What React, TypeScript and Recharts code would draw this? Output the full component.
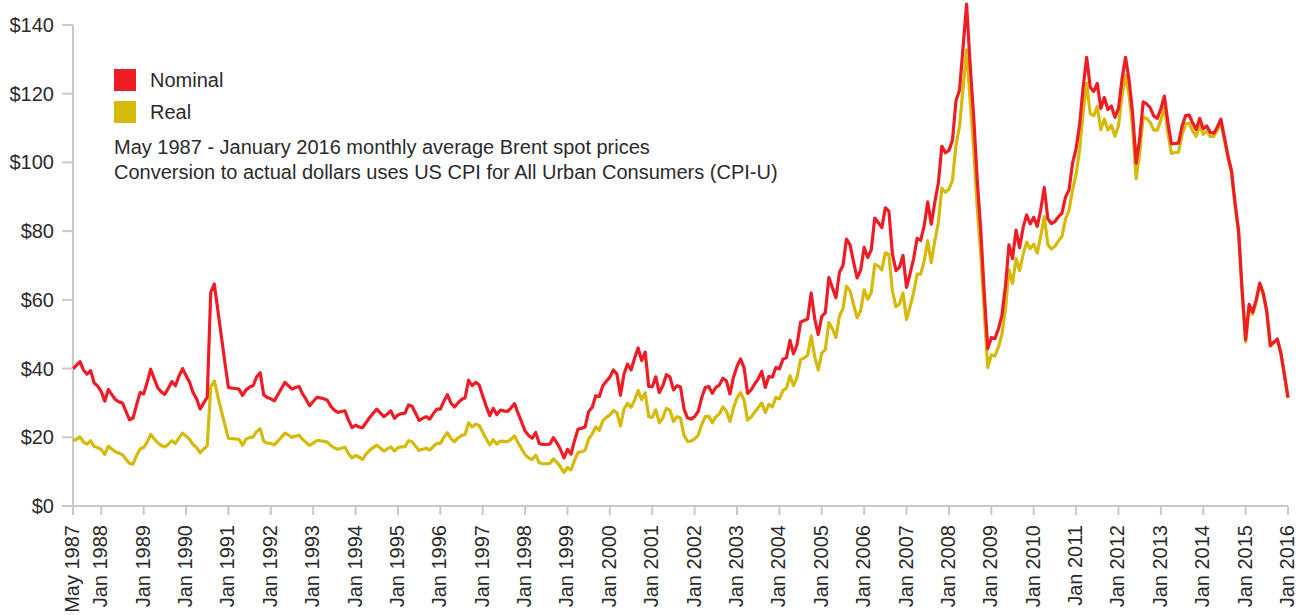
import { LineChart, Line, XAxis, YAxis, ReferenceLine } from 'recharts';

const MONTH_NAMES = ['Jan', 'Feb', 'Mar', 'Apr', 'May', 'Jun', 'Jul', 'Aug', 'Sep', 'Oct', 'Nov', 'Dec'];

// monthly Brent, May 1987 .. Jan 2016 (one row per year, first row starts in May)
const nominal = [
  39.9, 41.0, 42.0, 39.5, 38.4, 39.4, 35.8, 34.9,
  33.3, 30.5, 33.9, 32.4, 31.0, 30.3, 30.0, 27.5, 25.1, 25.6, 29.5, 33.0,
  32.6, 36.0, 39.8, 37.0, 34.4, 33.2, 32.5, 34.3, 36.2, 35.0, 37.8, 40.0,
  38.0, 36.0, 33.0, 31.2, 28.2, 30.0, 31.6, 62.2, 64.6, 57.0, 49.4, 41.8,
  34.5, 34.3, 34.2, 34.0, 32.2, 33.8, 34.6, 35.0, 37.6, 38.8, 32.3, 31.6,
  31.2, 30.6, 32.4, 34.2, 36.0, 35.0, 34.0, 34.5, 34.8, 32.6, 31.0, 29.2,
  30.4, 31.6, 31.5, 31.2, 30.8, 29.0, 27.9, 27.2, 27.5, 27.7, 25.0, 22.8,
  23.5, 23.0, 22.8, 24.3, 25.8, 27.0, 28.2, 27.1, 26.0, 26.8, 27.7, 25.5,
  26.5, 26.9, 27.0, 29.4, 29.0, 27.0, 24.9, 25.5, 26.0, 25.3, 26.8, 28.2,
  28.2, 30.5, 32.4, 30.0, 28.8, 30.0, 31.0, 31.5, 36.6, 35.0, 36.0, 35.2,
  32.0, 29.0, 26.3, 28.4, 26.6, 27.9, 27.7, 27.5, 28.5, 29.8, 27.0, 24.5,
  21.8, 20.5, 19.7, 21.4, 18.2, 17.9, 17.9, 18.0, 19.9, 18.4, 16.5, 14.0,
  16.5, 15.1, 19.0, 22.4, 22.6, 23.0, 27.5, 28.7, 32.1, 31.8, 35.0, 36.3,
  37.5, 39.6, 38.4, 32.2, 38.4, 41.3, 39.6, 43.0, 46.0, 42.3, 44.8, 34.8,
  34.7, 37.6, 33.0, 35.0, 38.2, 37.6, 33.8, 35.0, 34.6, 28.2, 25.6, 25.3,
  26.0, 27.5, 31.5, 34.5, 34.8, 32.8, 34.5, 35.2, 37.2, 36.4, 32.6, 37.5,
  40.6, 42.8, 40.2, 32.8, 33.8, 35.5, 37.0, 39.2, 34.5, 37.7, 37.5, 40.3,
  39.9, 42.7, 43.2, 48.2, 44.3, 47.0, 53.5, 54.0, 54.4, 62.0, 54.5, 49.9,
  55.2, 56.2, 66.5, 63.5, 60.6, 68.0, 70.0, 77.7, 76.0, 71.0, 66.4, 68.6,
  75.3, 72.3, 74.5, 83.8, 82.5, 81.0, 86.8, 85.8, 73.4, 68.5, 69.5, 72.9,
  63.6, 67.6, 72.0, 77.9, 77.3, 81.6, 88.5, 82.0, 88.4, 94.0, 104.7, 102.8,
  103.5, 106.4, 118.0, 121.0, 133.5, 146.1, 128.5, 113.5, 95.0, 80.5, 62.0, 45.8,
  49.0, 48.7, 51.5, 55.5, 64.0, 76.0, 72.0, 80.3, 75.2, 81.0, 84.7, 82.1,
  84.0, 81.4, 86.3, 92.7, 83.6, 82.2, 82.8, 84.2, 85.2, 89.9, 92.0, 99.8,
  104.0, 111.0, 121.9, 130.6, 121.9, 120.6, 123.0, 115.7, 118.9, 115.4, 116.4, 113.1,
  115.7, 124.2, 130.6, 124.0, 114.5, 99.8, 106.8, 117.6, 117.0, 115.9, 113.5, 112.8,
  115.6, 119.3, 111.6, 105.4, 105.5, 105.6, 110.6, 113.6, 113.8, 111.5, 109.6, 112.8,
  109.8, 110.6, 108.7, 108.5, 110.3, 112.6, 107.2, 102.0, 97.6, 88.3, 80.2, 63.0,
  48.4, 58.7, 56.4, 60.0, 64.9, 61.9, 56.6, 46.7, 47.7, 48.6, 44.4, 38.1,
  31.6,
];

const real = [
  19.0, 19.4, 20.1, 18.6, 18.0, 19.0, 17.3, 17.0,
  16.4, 15.0, 17.4, 16.6, 15.8, 15.4, 14.9, 13.6, 12.4, 12.2, 14.7, 16.6,
  17.0, 18.6, 20.8, 19.5, 18.4, 17.6, 17.2, 18.0, 19.0, 18.2, 19.8, 21.2,
  20.4, 19.4, 17.9, 17.0, 15.5, 16.6, 17.5, 34.6, 36.4, 32.0, 27.7, 23.6,
  19.7, 19.6, 19.5, 19.4, 17.7, 19.5, 19.9, 20.1, 21.7, 22.5, 18.8, 18.3,
  18.2, 17.8, 18.9, 20.0, 21.2, 20.6, 20.0, 20.3, 20.6, 19.4, 18.5, 17.6,
  18.3, 19.0, 19.0, 18.8, 18.6, 17.6, 16.9, 16.5, 16.8, 17.1, 15.3, 14.0,
  14.7, 14.2, 13.6, 15.2, 16.2, 17.0, 17.7, 16.9, 16.0, 16.6, 17.2, 16.0,
  17.0, 17.2, 17.3, 19.0, 18.7, 17.4, 16.2, 16.5, 16.8, 16.3, 17.3, 18.2,
  18.2, 20.0, 21.3, 19.6, 18.7, 19.8, 20.5, 20.8, 24.2, 23.0, 23.8, 23.4,
  21.5, 19.5, 17.8, 19.3, 18.0, 18.9, 18.8, 18.7, 19.4, 20.4, 18.4, 16.7,
  14.9, 14.0, 13.5, 14.8, 12.6, 12.3, 12.3, 12.4, 13.7, 12.7, 11.4, 9.7,
  11.2, 10.5, 13.3, 15.6, 15.8, 16.2, 19.5, 21.0, 23.0, 22.0, 24.8, 25.8,
  26.5, 27.8, 27.1, 23.3, 28.2, 29.9, 28.7, 30.8, 33.6, 31.0, 33.0, 26.0,
  25.8, 28.0, 24.2, 25.6, 28.4, 27.9, 24.6, 26.0, 25.6, 20.6, 18.8, 18.9,
  19.5, 20.6, 23.7, 26.0, 26.1, 24.2, 26.0, 26.8, 28.8, 27.6, 24.6, 28.5,
  31.5, 33.0, 30.8, 25.0, 25.9, 27.3, 28.6, 30.0, 27.2, 29.6, 28.8, 31.6,
  31.2, 33.6, 34.3, 37.9, 35.0, 37.5, 42.6, 43.1, 43.9, 49.5, 43.4, 39.6,
  44.5, 45.5, 53.4, 51.6, 49.0, 55.3, 57.4, 64.0, 62.6, 58.6, 54.8, 56.8,
  62.9, 60.2, 62.1, 70.3, 69.8, 68.7, 73.7, 73.2, 62.5, 58.0, 58.8, 62.0,
  54.3, 58.0, 62.1, 67.5, 67.5, 71.3, 77.2, 70.8, 77.2, 82.4, 92.5, 91.3,
  92.2, 94.8, 105.0, 110.5, 121.5, 132.7, 118.0, 104.0, 87.0, 73.5, 56.5, 40.3,
  44.0, 43.6, 46.2, 50.0, 57.3, 68.7, 64.8, 72.0, 68.5, 73.2, 76.8, 74.9,
  76.2, 73.6, 78.6, 84.2, 76.1, 74.8, 75.6, 77.1, 78.4, 83.5, 86.0, 92.0,
  96.5, 103.7, 114.6, 123.0, 114.2, 113.6, 116.3, 109.5, 112.6, 109.4, 110.8, 107.6,
  110.7, 119.3, 125.4, 119.6, 110.3, 95.3, 102.6, 113.2, 112.8, 111.6, 109.4, 109.4,
  112.3, 116.1, 108.6, 102.6, 102.8, 103.0, 108.0, 111.2, 111.4, 109.2, 107.6, 110.8,
  108.2, 109.1, 107.5, 107.6, 109.4, 111.6, 106.6, 101.4, 96.9, 87.5, 79.5, 62.4,
  47.7, 58.0, 55.8, 59.4, 64.5, 61.6, 56.4, 46.5, 47.6, 48.4, 44.3, 38.0,
  31.4,
];

const yTicks = [0, 20, 40, 60, 80, 100, 120, 140];

const xTickLabels = [
  'May 1987', 'Jan 1988', 'Jan 1989', 'Jan 1990', 'Jan 1991', 'Jan 1992', 'Jan 1993', 'Jan 1994',
  'Jan 1995', 'Jan 1996', 'Jan 1997', 'Jan 1998', 'Jan 1999', 'Jan 2000', 'Jan 2001', 'Jan 2002',
  'Jan 2003', 'Jan 2004', 'Jan 2005', 'Jan 2006', 'Jan 2007', 'Jan 2008', 'Jan 2009', 'Jan 2010',
  'Jan 2011', 'Jan 2012', 'Jan 2013', 'Jan 2014', 'Jan 2015', 'Jan 2016',
];

const notes = [
  'May 1987 - January 2016 monthly average Brent spot prices',
  'Conversion to actual dollars uses US CPI for All Urban Consumers (CPI-U)',
];

const RED = '#ee1c25';
const GOLD = '#d5b90b';
const GRID = '#c9c9cc';
const TEXT = '#2a2a2a';
const FONT = '"Liberation Sans", Arial, Helvetica, sans-serif';

// month names, starting at May 1987
const months = nominal.map((_, i) => {
  const k = i + 4;
  return `${MONTH_NAMES[k % 12]} ${1987 + Math.floor(k / 12)}`;
});

const data = months.map((month, i) => ({ i, month, nominal: nominal[i], real: real[i] }));
const xTicks = xTickLabels.map(l => months.indexOf(l));
const yTop = yTicks[yTicks.length - 1];

function XTick({ x, y, payload }: any) {
  return (
    <text
      x={x}
      y={y}
      dy="0.3em"
      transform={`rotate(-90 ${x} ${y})`}
      textAnchor="end"
      fontSize={20}
      fill={TEXT}
      fontFamily={FONT}
    >
      {months[payload.value]}
    </text>
  );
}

const legend = [
  { label: 'Nominal', color: RED, top: 69 },
  { label: 'Real', color: GOLD, top: 101 },
];

export default function App() {
  return (
    <div style={{ position: 'absolute', left: 0, top: 0, width: 1309, height: 615, background: '#fff', fontFamily: FONT }}>
      {/* the 2008 peak runs above the $140 tick, so the plot top is the data max */}
      <LineChart width={1309} height={615} data={data} margin={{ top: 4, right: 21, left: 0, bottom: 0 }}>
        <XAxis
          type="number"
          dataKey="i"
          domain={[0, data.length - 1]}
          ticks={xTicks}
          interval={0}
          height={109}
          stroke={GRID}
          strokeWidth={2}
          tickSize={9}
          tickMargin={10}
          tick={<XTick />}
        />
        <YAxis
          domain={[0, 'dataMax']}
          ticks={yTicks}
          interval={0}
          width={73}
          axisLine={false}
          stroke={GRID}
          strokeWidth={2}
          tickSize={11}
          tickMargin={8}
          tickFormatter={(v: number) => `$${v}`}
          tick={{ fontSize: 20, fill: TEXT, fontFamily: FONT }}
          tickLine={{ stroke: GRID, strokeWidth: 2 }}
        />
        {/* y axis line stops at the top tick */}
        <ReferenceLine segment={[{ x: 0, y: 0 }, { x: 0, y: yTop }]} stroke={GRID} strokeWidth={2} />
        <Line dataKey="real" stroke={GOLD} strokeWidth={3.2} dot={false} strokeLinejoin="round" isAnimationActive={false} />
        <Line dataKey="nominal" stroke={RED} strokeWidth={3.2} dot={false} strokeLinejoin="round" isAnimationActive={false} />
      </LineChart>

      {legend.map(l => (
        <div key={l.label}>
          <div style={{ position: 'absolute', left: 114, top: l.top, width: 22, height: 22, background: l.color }} />
          <div style={{ position: 'absolute', left: 150, top: l.top, fontSize: 20, lineHeight: '22px', color: TEXT }}>{l.label}</div>
        </div>
      ))}
      {notes.map((n, k) => (
        <div key={n} style={{ position: 'absolute', left: 114, top: 136 + k * 24.5, fontSize: 20, lineHeight: '22px', color: TEXT, whiteSpace: 'nowrap' }}>
          {n}
        </div>
      ))}
    </div>
  );
}
